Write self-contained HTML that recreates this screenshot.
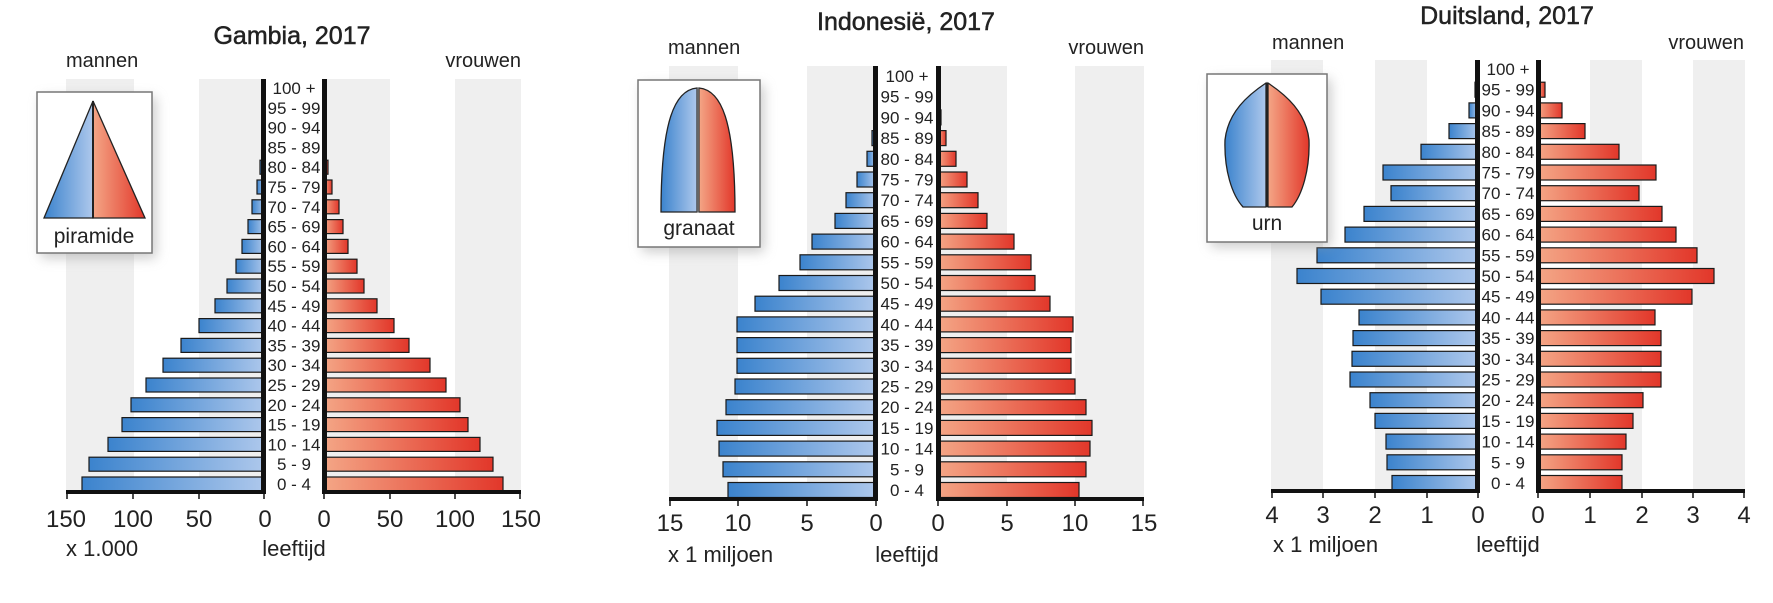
<!DOCTYPE html>
<html><head><meta charset="utf-8"><style>
html,body{margin:0;padding:0;background:#fff}
svg{display:block}
text{font-family:"Liberation Sans","DejaVu Sans",sans-serif;fill:#222}
.t{font-size:25px;text-anchor:middle;stroke:#222;stroke-width:0.5}
.mv{font-size:20px}
.lb{font-size:17px;text-anchor:middle}
.tk{font-size:24px;text-anchor:middle}
.un{font-size:22px}
.m{fill:url(#gb);stroke:#1a1a1a;stroke-width:1.2}
.f{fill:url(#gr);stroke:#1a1a1a;stroke-width:1.2}
.g{fill:#efefef}
</style></head><body>
<svg width="1773" height="603" viewBox="0 0 1773 603" xmlns="http://www.w3.org/2000/svg">
<defs>
<linearGradient id="gb" x1="0" x2="1" y1="0" y2="0"><stop offset="0" stop-color="#3b83cd"/><stop offset="1" stop-color="#aec8ec"/></linearGradient>
<linearGradient id="gr" x1="0" x2="1" y1="0" y2="0"><stop offset="0" stop-color="#f4a686"/><stop offset="1" stop-color="#e2372a"/></linearGradient>
<filter id="sh" x="-30%" y="-30%" width="160%" height="160%"><feGaussianBlur stdDeviation="6"/></filter>
</defs>

<!-- ===== GAMBIA ===== -->
<text class="t" x="292" y="44">Gambia, 2017</text>
<text class="mv" x="66" y="67">mannen</text>
<text class="mv" x="521" y="67" text-anchor="end">vrouwen</text>
<rect class="g" x="66" y="79" width="68" height="413"/>
<rect class="g" x="199" y="79" width="66" height="413"/>
<rect class="g" x="324" y="79" width="66" height="413"/>
<rect class="g" x="455" y="79" width="66" height="413"/>
<g>
<rect class="m" x="82" y="477" width="183" height="14"/>
<rect class="m" x="89" y="457.2" width="176" height="14"/>
<rect class="m" x="108" y="437.4" width="157" height="14"/>
<rect class="m" x="122" y="417.6" width="143" height="14"/>
<rect class="m" x="131" y="397.8" width="134" height="14"/>
<rect class="m" x="146" y="378" width="119" height="14"/>
<rect class="m" x="163" y="358.2" width="102" height="14"/>
<rect class="m" x="181" y="338.4" width="84" height="14"/>
<rect class="m" x="199" y="318.6" width="66" height="14"/>
<rect class="m" x="215" y="298.8" width="50" height="14"/>
<rect class="m" x="227" y="279" width="38" height="14"/>
<rect class="m" x="236" y="259.2" width="29" height="14"/>
<rect class="m" x="242" y="239.4" width="23" height="14"/>
<rect class="m" x="248" y="219.6" width="17" height="14"/>
<rect class="m" x="252" y="199.8" width="13" height="14"/>
<rect class="m" x="257" y="180" width="8" height="14"/>
<rect class="m" x="260" y="160.2" width="5" height="14"/>
<rect class="m" x="262" y="140.4" width="3" height="14"/>
<rect class="f" x="324" y="477" width="179" height="14"/>
<rect class="f" x="324" y="457.2" width="169" height="14"/>
<rect class="f" x="324" y="437.4" width="156" height="14"/>
<rect class="f" x="324" y="417.6" width="144" height="14"/>
<rect class="f" x="324" y="397.8" width="136" height="14"/>
<rect class="f" x="324" y="378" width="122" height="14"/>
<rect class="f" x="324" y="358.2" width="106" height="14"/>
<rect class="f" x="324" y="338.4" width="85" height="14"/>
<rect class="f" x="324" y="318.6" width="70" height="14"/>
<rect class="f" x="324" y="298.8" width="53" height="14"/>
<rect class="f" x="324" y="279" width="40" height="14"/>
<rect class="f" x="324" y="259.2" width="33" height="14"/>
<rect class="f" x="324" y="239.4" width="24" height="14"/>
<rect class="f" x="324" y="219.6" width="19" height="14"/>
<rect class="f" x="324" y="199.8" width="15" height="14"/>
<rect class="f" x="324" y="180" width="8" height="14"/>
<rect class="f" x="324" y="160.2" width="4" height="14"/>
</g>
<rect x="261" y="79" width="5" height="415" fill="#111"/>
<rect x="322" y="79" width="5" height="415" fill="#111"/>
<rect x="66" y="490" width="199" height="4" fill="#111"/>
<rect x="322" y="490" width="199" height="4" fill="#111"/>
<g stroke="#111" stroke-width="1.5">
<line x1="67" y1="492" x2="67" y2="499"/><line x1="133" y1="492" x2="133" y2="499"/><line x1="199" y1="492" x2="199" y2="499"/><line x1="264" y1="492" x2="264" y2="499"/>
<line x1="324" y1="492" x2="324" y2="499"/><line x1="390" y1="492" x2="390" y2="499"/><line x1="455" y1="492" x2="455" y2="499"/><line x1="520" y1="492" x2="520" y2="499"/>
</g>
<g>
<text class="lb" x="294" y="94">100 +</text>
<text class="lb" x="294" y="113.8">95 - 99</text>
<text class="lb" x="294" y="133.6">90 - 94</text>
<text class="lb" x="294" y="153.4">85 - 89</text>
<text class="lb" x="294" y="173.2">80 - 84</text>
<text class="lb" x="294" y="193">75 - 79</text>
<text class="lb" x="294" y="212.8">70 - 74</text>
<text class="lb" x="294" y="232.6">65 - 69</text>
<text class="lb" x="294" y="252.4">60 - 64</text>
<text class="lb" x="294" y="272.2">55 - 59</text>
<text class="lb" x="294" y="292">50 - 54</text>
<text class="lb" x="294" y="311.8">45 - 49</text>
<text class="lb" x="294" y="331.6">40 - 44</text>
<text class="lb" x="294" y="351.4">35 - 39</text>
<text class="lb" x="294" y="371.2">30 - 34</text>
<text class="lb" x="294" y="391">25 - 29</text>
<text class="lb" x="294" y="410.8">20 - 24</text>
<text class="lb" x="294" y="430.6">15 - 19</text>
<text class="lb" x="294" y="450.4">10 - 14</text>
<text class="lb" x="294" y="470.2">5 - 9</text>
<text class="lb" x="294" y="490">0 - 4</text>
</g>
<text class="tk" x="66" y="527">150</text><text class="tk" x="133" y="527">100</text><text class="tk" x="199" y="527">50</text><text class="tk" x="265" y="527">0</text>
<text class="tk" x="324" y="527">0</text><text class="tk" x="390" y="527">50</text><text class="tk" x="455" y="527">100</text><text class="tk" x="521" y="527">150</text>
<text class="un" x="66" y="556">x 1.000</text>
<text class="un" x="294" y="556" text-anchor="middle">leeftijd</text>
<rect x="41" y="97" width="115" height="161" fill="#999" opacity="0.5" filter="url(#sh)"/>
<rect x="37" y="92" width="115" height="161" fill="#fff" stroke="#777" stroke-width="1.5"/>
<polygon points="93,101 44,218 93,218" fill="url(#gb)" stroke="#222" stroke-width="1.3"/>
<polygon points="93,101 145,218 93,218" fill="url(#gr)" stroke="#222" stroke-width="1.3"/>
<line x1="93" y1="101" x2="93" y2="218" stroke="#222" stroke-width="2"/>
<text x="94" y="243" font-size="21" text-anchor="middle">piramide</text>

<!-- ===== INDONESIE ===== -->
<text class="t" x="906" y="30">Indonesië, 2017</text>
<text class="mv" x="668" y="54">mannen</text>
<text class="mv" x="1144" y="54" text-anchor="end">vrouwen</text>
<rect class="g" x="669" y="66" width="69" height="433"/>
<rect class="g" x="807" y="66" width="69" height="433"/>
<rect class="g" x="938" y="66" width="69" height="433"/>
<rect class="g" x="1075" y="66" width="69" height="433"/>
<g>
<rect class="m" x="728" y="482.5" width="148" height="15"/>
<rect class="m" x="723" y="461.8" width="153" height="15"/>
<rect class="m" x="719" y="441.1" width="157" height="15"/>
<rect class="m" x="717" y="420.4" width="159" height="15"/>
<rect class="m" x="726" y="399.7" width="150" height="15"/>
<rect class="m" x="735" y="379" width="141" height="15"/>
<rect class="m" x="737" y="358.3" width="139" height="15"/>
<rect class="m" x="737" y="337.6" width="139" height="15"/>
<rect class="m" x="737" y="316.9" width="139" height="15"/>
<rect class="m" x="755" y="296.2" width="121" height="15"/>
<rect class="m" x="779" y="275.5" width="97" height="15"/>
<rect class="m" x="800" y="254.8" width="76" height="15"/>
<rect class="m" x="812" y="234.1" width="64" height="15"/>
<rect class="m" x="835" y="213.4" width="41" height="15"/>
<rect class="m" x="846" y="192.7" width="30" height="15"/>
<rect class="m" x="857" y="172" width="19" height="15"/>
<rect class="m" x="867" y="151.3" width="9" height="15"/>
<rect class="m" x="872" y="130.6" width="4" height="15"/>
<rect class="f" x="938" y="482.5" width="141" height="15"/>
<rect class="f" x="938" y="461.8" width="148" height="15"/>
<rect class="f" x="938" y="441.1" width="152" height="15"/>
<rect class="f" x="938" y="420.4" width="154" height="15"/>
<rect class="f" x="938" y="399.7" width="148" height="15"/>
<rect class="f" x="938" y="379" width="137" height="15"/>
<rect class="f" x="938" y="358.3" width="133" height="15"/>
<rect class="f" x="938" y="337.6" width="133" height="15"/>
<rect class="f" x="938" y="316.9" width="135" height="15"/>
<rect class="f" x="938" y="296.2" width="112" height="15"/>
<rect class="f" x="938" y="275.5" width="97" height="15"/>
<rect class="f" x="938" y="254.8" width="93" height="15"/>
<rect class="f" x="938" y="234.1" width="76" height="15"/>
<rect class="f" x="938" y="213.4" width="49" height="15"/>
<rect class="f" x="938" y="192.7" width="40" height="15"/>
<rect class="f" x="938" y="172" width="29" height="15"/>
<rect class="f" x="938" y="151.3" width="18" height="15"/>
<rect class="f" x="938" y="130.6" width="8" height="15"/>
<rect class="f" x="938" y="109.9" width="3" height="15"/>
</g>
<rect x="873" y="66" width="5" height="435" fill="#111"/>
<rect x="936" y="66" width="5" height="435" fill="#111"/>
<rect x="669" y="497" width="209" height="4" fill="#111"/>
<rect x="936" y="497" width="208" height="4" fill="#111"/>
<g stroke="#111" stroke-width="1.5">
<line x1="670" y1="499" x2="670" y2="506"/><line x1="738" y1="499" x2="738" y2="506"/><line x1="807" y1="499" x2="807" y2="506"/><line x1="876" y1="499" x2="876" y2="506"/>
<line x1="938" y1="499" x2="938" y2="506"/><line x1="1007" y1="499" x2="1007" y2="506"/><line x1="1075" y1="499" x2="1075" y2="506"/><line x1="1143" y1="499" x2="1143" y2="506"/>
</g>
<g>
<text class="lb" x="907" y="82">100 +</text>
<text class="lb" x="907" y="102.7">95 - 99</text>
<text class="lb" x="907" y="123.4">90 - 94</text>
<text class="lb" x="907" y="144.1">85 - 89</text>
<text class="lb" x="907" y="164.8">80 - 84</text>
<text class="lb" x="907" y="185.5">75 - 79</text>
<text class="lb" x="907" y="206.2">70 - 74</text>
<text class="lb" x="907" y="226.9">65 - 69</text>
<text class="lb" x="907" y="247.6">60 - 64</text>
<text class="lb" x="907" y="268.3">55 - 59</text>
<text class="lb" x="907" y="289">50 - 54</text>
<text class="lb" x="907" y="309.7">45 - 49</text>
<text class="lb" x="907" y="330.4">40 - 44</text>
<text class="lb" x="907" y="351.1">35 - 39</text>
<text class="lb" x="907" y="371.8">30 - 34</text>
<text class="lb" x="907" y="392.5">25 - 29</text>
<text class="lb" x="907" y="413.2">20 - 24</text>
<text class="lb" x="907" y="433.9">15 - 19</text>
<text class="lb" x="907" y="454.6">10 - 14</text>
<text class="lb" x="907" y="475.3">5 - 9</text>
<text class="lb" x="907" y="496">0 - 4</text>
</g>
<text class="tk" x="670" y="531">15</text><text class="tk" x="738" y="531">10</text><text class="tk" x="807" y="531">5</text><text class="tk" x="876" y="531">0</text>
<text class="tk" x="938" y="531">0</text><text class="tk" x="1007" y="531">5</text><text class="tk" x="1075" y="531">10</text><text class="tk" x="1144" y="531">15</text>
<text class="un" x="668" y="562">x 1 miljoen</text>
<text class="un" x="907" y="562" text-anchor="middle">leeftijd</text>
<rect x="642" y="85" width="122" height="167" fill="#999" opacity="0.5" filter="url(#sh)"/>
<rect x="638" y="80" width="122" height="167" fill="#fff" stroke="#777" stroke-width="1.5"/>
<path d="M697,88 C675,90 661,120 661,212 L697,212 Z" fill="url(#gb)" stroke="#222" stroke-width="1.3"/>
<path d="M699,88 C721,90 735,120 735,212 L699,212 Z" fill="url(#gr)" stroke="#222" stroke-width="1.3"/>
<line x1="698" y1="88" x2="698" y2="212" stroke="#666" stroke-width="2.5"/>
<text x="699" y="235" font-size="21" text-anchor="middle">granaat</text>

<!-- ===== DUITSLAND ===== -->
<text class="t" x="1507" y="24">Duitsland, 2017</text>
<text class="mv" x="1272" y="49">mannen</text>
<text class="mv" x="1744" y="49" text-anchor="end">vrouwen</text>
<rect class="g" x="1271" y="60" width="52" height="431"/>
<rect class="g" x="1375" y="60" width="52" height="431"/>
<rect class="g" x="1590" y="60" width="52" height="431"/>
<rect class="g" x="1693" y="60" width="52" height="431"/>
<g>
<rect class="m" x="1392" y="475.5" width="86" height="15"/>
<rect class="m" x="1387" y="454.8" width="91" height="15"/>
<rect class="m" x="1386" y="434.1" width="92" height="15"/>
<rect class="m" x="1375" y="413.4" width="103" height="15"/>
<rect class="m" x="1370" y="392.7" width="108" height="15"/>
<rect class="m" x="1350" y="372" width="128" height="15"/>
<rect class="m" x="1352" y="351.3" width="126" height="15"/>
<rect class="m" x="1353" y="330.6" width="125" height="15"/>
<rect class="m" x="1359" y="309.9" width="119" height="15"/>
<rect class="m" x="1321" y="289.2" width="157" height="15"/>
<rect class="m" x="1297" y="268.5" width="181" height="15"/>
<rect class="m" x="1317" y="247.8" width="161" height="15"/>
<rect class="m" x="1345" y="227.1" width="133" height="15"/>
<rect class="m" x="1364" y="206.4" width="114" height="15"/>
<rect class="m" x="1391" y="185.7" width="87" height="15"/>
<rect class="m" x="1383" y="165" width="95" height="15"/>
<rect class="m" x="1421" y="144.3" width="57" height="15"/>
<rect class="m" x="1449" y="123.6" width="29" height="15"/>
<rect class="m" x="1469" y="102.9" width="9" height="15"/>
<rect class="m" x="1475" y="82.2" width="3" height="15"/>
<rect class="f" x="1538" y="475.5" width="84" height="15"/>
<rect class="f" x="1538" y="454.8" width="84" height="15"/>
<rect class="f" x="1538" y="434.1" width="88" height="15"/>
<rect class="f" x="1538" y="413.4" width="95" height="15"/>
<rect class="f" x="1538" y="392.7" width="105" height="15"/>
<rect class="f" x="1538" y="372" width="123" height="15"/>
<rect class="f" x="1538" y="351.3" width="123" height="15"/>
<rect class="f" x="1538" y="330.6" width="123" height="15"/>
<rect class="f" x="1538" y="309.9" width="117" height="15"/>
<rect class="f" x="1538" y="289.2" width="154" height="15"/>
<rect class="f" x="1538" y="268.5" width="176" height="15"/>
<rect class="f" x="1538" y="247.8" width="159" height="15"/>
<rect class="f" x="1538" y="227.1" width="138" height="15"/>
<rect class="f" x="1538" y="206.4" width="124" height="15"/>
<rect class="f" x="1538" y="185.7" width="101" height="15"/>
<rect class="f" x="1538" y="165" width="118" height="15"/>
<rect class="f" x="1538" y="144.3" width="81" height="15"/>
<rect class="f" x="1538" y="123.6" width="47" height="15"/>
<rect class="f" x="1538" y="102.9" width="24" height="15"/>
<rect class="f" x="1538" y="82.2" width="7" height="15"/>
</g>
<rect x="1475" y="60" width="5" height="433" fill="#111"/>
<rect x="1536" y="60" width="5" height="433" fill="#111"/>
<rect x="1271" y="489" width="209" height="4" fill="#111"/>
<rect x="1536" y="489" width="209" height="4" fill="#111"/>
<g stroke="#111" stroke-width="1.5">
<line x1="1272" y1="491" x2="1272" y2="498"/><line x1="1323" y1="491" x2="1323" y2="498"/><line x1="1375" y1="491" x2="1375" y2="498"/><line x1="1427" y1="491" x2="1427" y2="498"/><line x1="1478" y1="491" x2="1478" y2="498"/>
<line x1="1538" y1="491" x2="1538" y2="498"/><line x1="1590" y1="491" x2="1590" y2="498"/><line x1="1642" y1="491" x2="1642" y2="498"/><line x1="1693" y1="491" x2="1693" y2="498"/><line x1="1744" y1="491" x2="1744" y2="498"/>
</g>
<g>
<text class="lb" x="1508" y="75">100 +</text>
<text class="lb" x="1508" y="95.7">95 - 99</text>
<text class="lb" x="1508" y="116.4">90 - 94</text>
<text class="lb" x="1508" y="137.1">85 - 89</text>
<text class="lb" x="1508" y="157.8">80 - 84</text>
<text class="lb" x="1508" y="178.5">75 - 79</text>
<text class="lb" x="1508" y="199.2">70 - 74</text>
<text class="lb" x="1508" y="219.9">65 - 69</text>
<text class="lb" x="1508" y="240.6">60 - 64</text>
<text class="lb" x="1508" y="261.3">55 - 59</text>
<text class="lb" x="1508" y="282">50 - 54</text>
<text class="lb" x="1508" y="302.7">45 - 49</text>
<text class="lb" x="1508" y="323.4">40 - 44</text>
<text class="lb" x="1508" y="344.1">35 - 39</text>
<text class="lb" x="1508" y="364.8">30 - 34</text>
<text class="lb" x="1508" y="385.5">25 - 29</text>
<text class="lb" x="1508" y="406.2">20 - 24</text>
<text class="lb" x="1508" y="426.9">15 - 19</text>
<text class="lb" x="1508" y="447.6">10 - 14</text>
<text class="lb" x="1508" y="468.3">5 - 9</text>
<text class="lb" x="1508" y="489">0 - 4</text>
</g>
<text class="tk" x="1272" y="523">4</text><text class="tk" x="1323" y="523">3</text><text class="tk" x="1375" y="523">2</text><text class="tk" x="1427" y="523">1</text><text class="tk" x="1478" y="523">0</text>
<text class="tk" x="1538" y="523">0</text><text class="tk" x="1590" y="523">1</text><text class="tk" x="1642" y="523">2</text><text class="tk" x="1693" y="523">3</text><text class="tk" x="1744" y="523">4</text>
<text class="un" x="1273" y="552">x 1 miljoen</text>
<text class="un" x="1508" y="552" text-anchor="middle">leeftijd</text>
<rect x="1211" y="79" width="120" height="168" fill="#999" opacity="0.5" filter="url(#sh)"/>
<rect x="1207" y="74" width="120" height="168" fill="#fff" stroke="#777" stroke-width="1.5"/>
<path d="M1266,83 C1248,95 1228,112 1225,140 C1224,170 1232,195 1243,207 L1266,207 Z" fill="url(#gb)" stroke="#222" stroke-width="1.3"/>
<path d="M1268,83 C1286,95 1306,112 1309,140 C1310,170 1302,195 1292,207 L1268,207 Z" fill="url(#gr)" stroke="#222" stroke-width="1.3"/>
<line x1="1267" y1="83" x2="1267" y2="207" stroke="#222" stroke-width="2"/>
<text x="1267" y="230" font-size="21" text-anchor="middle">urn</text>
</svg>
</body></html>
